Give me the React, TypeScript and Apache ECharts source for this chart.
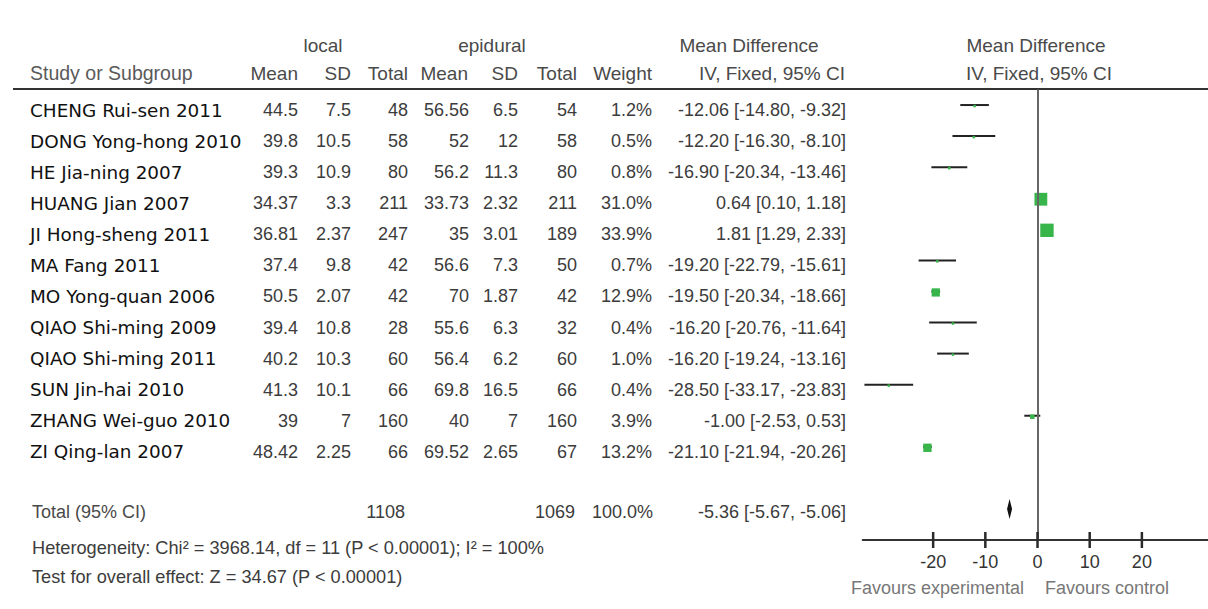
import React, { useEffect, useRef } from "react";
import * as echarts from "echarts";

// ---------- data ----------
const studies = [
  "CHENG Rui-sen 2011",
  "DONG Yong-hong 2010",
  "HE Jia-ning 2007",
  "HUANG Jian 2007",
  "JI Hong-sheng 2011",
  "MA Fang 2011",
  "MO Yong-quan 2006",
  "QIAO Shi-ming 2009",
  "QIAO Shi-ming 2011",
  "SUN Jin-hai 2010",
  "ZHANG Wei-guo 2010",
  "ZI Qing-lan 2007",
];
const localMean = [44.5, 39.8, 39.3, 34.37, 36.81, 37.4, 50.5, 39.4, 40.2, 41.3, 39, 48.42];
const localSD = [7.5, 10.5, 10.9, 3.3, 2.37, 9.8, 2.07, 10.8, 10.3, 10.1, 7, 2.25];
const localTotal = [48, 58, 80, 211, 247, 42, 42, 28, 60, 66, 160, 66];
const epiMean = [56.56, 52, 56.2, 33.73, 35, 56.6, 70, 55.6, 56.4, 69.8, 40, 69.52];
const epiSD = [6.5, 12, 11.3, 2.32, 3.01, 7.3, 1.87, 6.3, 6.2, 16.5, 7, 2.65];
const epiTotal = [54, 58, 80, 211, 189, 50, 42, 32, 60, 66, 160, 67];
const weights = [1.2, 0.5, 0.8, 31.0, 33.9, 0.7, 12.9, 0.4, 1.0, 0.4, 3.9, 13.2];
const meanDiff = [-12.06, -12.2, -16.9, 0.64, 1.81, -19.2, -19.5, -16.2, -16.2, -28.5, -1.0, -21.1];
const ciLow = [-14.8, -16.3, -20.34, 0.1, 1.29, -22.79, -20.34, -20.76, -19.24, -33.17, -2.53, -21.94];
const ciHigh = [-9.32, -8.1, -13.46, 1.18, 2.33, -15.61, -18.66, -11.64, -13.16, -23.83, 0.53, -20.26];

const totalLocal = 1108;
const totalEpi = 1069;
const totalWeight = 100.0;
const totalMD = -5.36;
const totalLow = -5.67;
const totalHigh = -5.06;

const tickValues = [-20, -10, 0, 10, 20];
const heterogeneityText = "Heterogeneity: Chi² = 3968.14, df = 11 (P < 0.00001); I² = 100%";
const overallText = "Test for overall effect: Z = 34.67 (P < 0.00001)";

// ---------- layout ----------
const W = 1208;
const H = 609;
const GRID_LEFT = 862.7;
const AXIS_Y = 540;
const GRID_TOP = 89.5;
const X_MIN = -33.5;
const X_MAX = 32.67;
const Y_MIN = -0.5;
const Y_MAX = 14;
const TOTAL_ROW = 13;
const ROW_H = (AXIS_Y - GRID_TOP) / (Y_MAX - Y_MIN);
const rowY = (i: number) => GRID_TOP + (i - Y_MIN) * ROW_H;

const GRAY_FONT = '"Liberation Sans", Arial, sans-serif';
const NAME_FONT = '"DejaVu Sans", Verdana, sans-serif';
const NUM_FILL = "#3c3c3c";

function txt(
  text: string,
  x: number,
  y: number,
  align: "left" | "right" | "center",
  fill = NUM_FILL,
  fontFamily = GRAY_FONT,
  fontSize = 18
) {
  return {
    type: "text",
    x,
    y,
    silent: true,
    style: { text, fill, fontFamily, fontSize, align, verticalAlign: "middle" },
  };
}

const fmtCI = (m: number, lo: number, hi: number) =>
  `${m.toFixed(2)} [${lo.toFixed(2)}, ${hi.toFixed(2)}]`;

export default function App() {
  const ref = useRef<HTMLDivElement>(null);

  useEffect(() => {
    document.body.style.margin = "0";
    if (!ref.current) return;
    const chart = echarts.init(ref.current, undefined, { renderer: "svg" });

    const graphics: any[] = [];
    const headerFill = "#4a4a4a";
    const HS = 19;
    // header row 1
    graphics.push(txt("local", 323, 45, "center", headerFill, GRAY_FONT, HS));
    graphics.push(txt("epidural", 492, 45, "center", headerFill, GRAY_FONT, HS));
    graphics.push(txt("Mean Difference", 749, 45, "center", headerFill, GRAY_FONT, HS));
    graphics.push(txt("Mean Difference", 1036, 45, "center", headerFill, GRAY_FONT, HS));
    // header row 2
    graphics.push(txt("Study or Subgroup", 30, 73, "left", "#5a5a5a", GRAY_FONT, 19.5));
    graphics.push(txt("Mean", 298, 73, "right", headerFill, GRAY_FONT, HS));
    graphics.push(txt("SD", 351, 73, "right", headerFill, GRAY_FONT, HS));
    graphics.push(txt("Total", 408, 73, "right", headerFill, GRAY_FONT, HS));
    graphics.push(txt("Mean", 468, 73, "right", headerFill, GRAY_FONT, HS));
    graphics.push(txt("SD", 518, 73, "right", headerFill, GRAY_FONT, HS));
    graphics.push(txt("Total", 577, 73, "right", headerFill, GRAY_FONT, HS));
    graphics.push(txt("Weight", 652, 73, "right", headerFill, GRAY_FONT, HS));
    graphics.push(txt("IV, Fixed, 95% CI", 772, 73, "center", headerFill, GRAY_FONT, HS));
    graphics.push(txt("IV, Fixed, 95% CI", 1039, 73, "center", headerFill, GRAY_FONT, HS));
    // header rule
    graphics.push({
      type: "rect",
      silent: true,
      shape: { x: 13, y: 88, width: W - 13, height: 2 },
      style: { fill: "#333" },
    });

    // study rows
    studies.forEach((name, i) => {
      const y = rowY(i) + 5;
      graphics.push(txt(name, 30, y, "left", "#111", NAME_FONT, 18.4));
      graphics.push(txt(String(localMean[i]), 298, y, "right"));
      graphics.push(txt(String(localSD[i]), 351, y, "right"));
      graphics.push(txt(String(localTotal[i]), 408, y, "right"));
      graphics.push(txt(String(epiMean[i]), 469, y, "right"));
      graphics.push(txt(String(epiSD[i]), 518, y, "right"));
      graphics.push(txt(String(epiTotal[i]), 577, y, "right"));
      graphics.push(txt(weights[i].toFixed(1) + "%", 652, y, "right"));
      graphics.push(txt(fmtCI(meanDiff[i], ciLow[i], ciHigh[i]), 846, y, "right"));
    });

    // total row
    const ty = rowY(TOTAL_ROW) + 3;
    graphics.push(txt("Total (95% CI)", 32, ty, "left", "#4a4a4a"));
    graphics.push(txt(String(totalLocal), 405, ty, "right"));
    graphics.push(txt(String(totalEpi), 575, ty, "right"));
    graphics.push(txt(totalWeight.toFixed(1) + "%", 653, ty, "right"));
    graphics.push(txt(fmtCI(totalMD, totalLow, totalHigh), 846, ty, "right"));

    // footnotes
    graphics.push(txt(heterogeneityText, 32, 548, "left", "#3c3c3c", GRAY_FONT, 18.2));
    graphics.push(txt(overallText, 32, 577, "left", "#3c3c3c", GRAY_FONT, 18.2));

    // favours labels
    graphics.push(txt("Favours experimental", 1024, 588, "right", "#777"));
    graphics.push(txt("Favours control", 1045, 588, "left", "#777"));

    const studyData = studies.map((_, i) => [meanDiff[i], i, ciLow[i], ciHigh[i], weights[i]]);

    chart.setOption({
      animation: false,
      backgroundColor: "#ffffff",
      grid: {
        left: GRID_LEFT,
        right: 0,
        top: GRID_TOP,
        bottom: H - AXIS_Y,
        containLabel: false,
        outerBoundsMode: "none",
      },
      xAxis: {
        type: "value",
        min: X_MIN,
        max: X_MAX,
        position: "bottom",
        axisLine: { show: true, onZero: false, lineStyle: { color: "#333", width: 2 } },
        axisTick: { show: false },
        axisLabel: {
          show: true,
          customValues: tickValues,
          margin: 13,
          color: "#333",
          fontSize: 18,
          fontFamily: GRAY_FONT,
        },
        splitLine: { show: false },
      },
      yAxis: {
        type: "value",
        min: Y_MIN,
        max: Y_MAX,
        inverse: true,
        show: false,
      },
      series: [
        {
          type: "custom",
          name: "studies",
          data: studyData,
          encode: { x: [0, 2, 3], y: 1 },
          renderItem: (params: any, api: any) => {
            const y = api.value(1);
            const p0 = api.coord([api.value(2), y]);
            const p1 = api.coord([api.value(3), y]);
            const pc = api.coord([api.value(0), y]);
            const s = Math.max(2.5, 2.3 * Math.sqrt(api.value(4)));
            return {
              type: "group",
              children: [
                {
                  type: "rect",
                  shape: { x: p0[0], y: p0[1] - 1, width: p1[0] - p0[0], height: 2 },
                  style: { fill: "#222" },
                },
                {
                  type: "rect",
                  shape: { x: pc[0] - s / 2, y: pc[1] - s / 2 + 1, width: s, height: s },
                  style: { fill: "#38b54a" },
                },
              ],
            };
          },
          markLine: {
            silent: true,
            symbol: ["none", "none"],
            label: { show: false },
            lineStyle: { color: "#666", width: 2, type: "solid" },
            data: [{ xAxis: 0 }],
          },
          z: 3,
        },
        {
          type: "custom",
          name: "total",
          data: [[totalMD, TOTAL_ROW, totalLow, totalHigh]],
          encode: { x: [0, 2, 3], y: 1 },
          renderItem: (params: any, api: any) => {
            const y = api.value(1);
            const pl = api.coord([api.value(2), y]);
            const ph = api.coord([api.value(3), y]);
            const pc = api.coord([api.value(0), y]);
            const half = 10;
            const lx = Math.min(pl[0], pc[0] - 2.5);
            const hx = Math.max(ph[0], pc[0] + 2.5);
            const cs = params.coordSys;
            const axisY = cs.y + cs.height;
            const ticks = tickValues.map((tv) => {
              const tx = api.coord([tv, y])[0];
              return {
                type: "rect",
                shape: { x: tx - 1.25, y: axisY - 8, width: 2.5, height: 16 },
                style: { fill: "#2a2a2a" },
              };
            });
            return {
              type: "group",
              children: [
                {
                  type: "polygon",
                  shape: {
                    points: [
                      [lx, pc[1]],
                      [pc[0], pc[1] - half],
                      [hx, pc[1]],
                      [pc[0], pc[1] + half],
                    ],
                  },
                  style: { fill: "#111" },
                },
                ...ticks,
              ],
            };
          },
          z: 6,
        },
      ],
      graphic: graphics,
    });

    return () => chart.dispose();
  }, []);

  return <div ref={ref} style={{ width: W, height: H }} />;
}
